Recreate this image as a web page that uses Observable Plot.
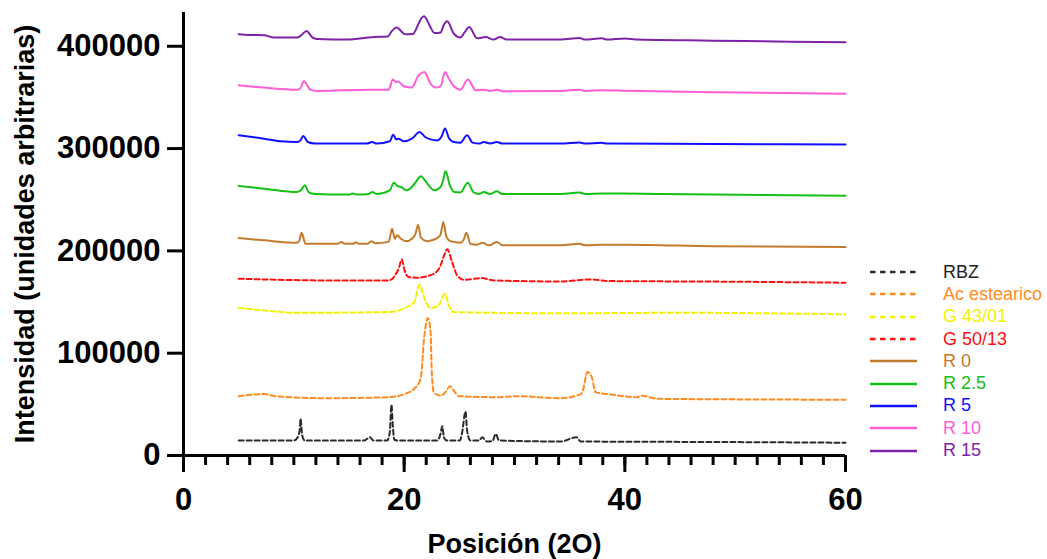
<!DOCTYPE html>
<html><head><meta charset="utf-8">
<script src="https://cdn.jsdelivr.net/npm/d3@7"></script>
<script src="https://cdn.jsdelivr.net/npm/@observablehq/plot@0.6"></script>
<style>
body{margin:0;background:#fff;font-family:"Liberation Sans",Arial,sans-serif}
#wrap{position:relative;width:1047px;height:559px;overflow:hidden}
#legend{position:absolute;left:870px;top:261px}
.row{display:flex;align-items:center;height:22.3px;font-size:18px;white-space:nowrap}
.row svg{margin-right:26px;flex:none}
</style></head><body><div id="wrap"><div id="chart"></div><div id="legend"></div></div>
<script>
// Series names, colors and dash style
const names = ["RBZ","Ac estearico","G 43/01","G 50/13","R 0","R 2.5","R 5","R 10","R 15"];
const colors = ["#2a2a2a","#FF8A1E","#F2F200","#FF1010","#C47A2C","#14C014","#1010FF","#FF5CD6","#7E22A8"];
const dashed = [true,true,true,true,false,false,false,false,false];
const xLabel = "Posición (2O)";
const yLabel = "Intensidad (unidades arbitrarias)";

// Data points [2θ, intensity (thousands)]
const RBZ = [[5,14.7],[10.0,14.7],[10.3,17],[10.55,26.1],[10.6,35.9],[10.76,19.6],[10.97,14.7],[16.4,14.7],[16.9,17.9],[17.2,14.7],[18.46,14.7],[18.7,22.8],[18.85,49.6],[18.97,29.3],[19.1,15.6],[19.4,14.7],[23.0,14.7],[23.3,21.2],[23.45,28.7],[23.6,17.9],[23.84,14.7],[25.05,14.7],[25.26,22.8],[25.56,43],[25.7,24.5],[26.0,14.7],[26.8,14.7],[27.07,17.9],[27.5,13.7],[28.0,14],[28.3,21.2],[28.6,14.7],[34.2,13.7],[35.6,17.9],[36,13.7],[48,13.2],[60,12.5]];
const AC = [[5,58],[7.3,60],[8.3,58],[13,56],[18.6,57],[20.1,60.3],[20.9,65.2],[21.5,75],[21.8,114],[22.15,134.3],[22.4,120.6],[22.5,81.5],[22.7,61.3],[23.3,58.6],[23.75,61.9],[24.14,67.8],[24.5,63.5],[24.95,58],[28.4,57],[30.2,58],[34.2,56],[36.0,60],[36.2,63.6],[36.6,81.5],[37.0,76.6],[37.35,61.9],[38.7,59.7],[41.1,57],[41.5,58.3],[43,55.4],[60,54.5]];
const G4301 = [[5,144.4],[7.3,141.8],[10.3,139.5],[18.5,140.2],[20.1,144.4],[20.9,149.9],[21.4,166.9],[21.8,154.8],[22.4,144],[23.1,146.5],[23.7,158.1],[24.05,146.5],[24.5,140.2],[34.2,139],[45,139.5],[60,138]];
const G5013 = [[5,172.8],[7.3,172.1],[13.2,171.1],[18.6,171.1],[19.06,174.4],[19.5,182.6],[19.8,191.7],[20.0,182.6],[20.4,174.4],[21.1,173.8],[22.7,177.7],[23.3,185.8],[23.6,195],[23.9,201.5],[24.35,189],[24.8,176],[25.4,171.8],[27.0,173.4],[28.2,171.1],[34.2,170.1],[36.9,172.1],[38.5,170.5],[48,170],[60,168.9]];
const R0 = [[5,212.5],[7.3,210.3],[10.3,208],[10.5,210],[10.7,217.8],[11.06,207],[14.0,207],[14.3,208.8],[14.6,207],[15.4,207],[15.6,208.5],[15.9,207],[16.7,207],[17.0,209.5],[17.4,207.5],[18.6,208.8],[18.9,221.7],[19.16,211.9],[19.37,215.2],[19.7,211.9],[20.2,209.5],[20.7,211.9],[21.0,215.8],[21.27,225.6],[21.5,213.5],[22.1,209.5],[23.0,212.5],[23.3,216],[23.54,228.2],[23.84,213.5],[24.2,209.5],[25.1,208],[25.4,211],[25.65,217.8],[26.0,207],[26.6,206],[27.1,208],[27.7,205.4],[28.4,208.8],[28.9,205.4],[34.2,205.4],[35.9,207],[36.4,205.4],[37.9,206],[40,206],[48,204.5],[60,203.7]];
const R25 = [[5,263.4],[7.3,260.8],[10.3,257.5],[10.7,260],[11.0,264.1],[11.36,257.1],[11.9,255.6],[15.0,255],[15.3,256],[15.8,255],[16.8,255.6],[17.1,257.5],[17.5,255.6],[18.7,259.2],[19.06,266.7],[19.4,263.4],[19.7,262.5],[20.2,259.2],[20.7,262.5],[21.1,268],[21.5,272.9],[22.1,265.7],[22.7,259.2],[23.3,262.5],[23.55,270],[23.75,277.8],[24.14,264.1],[24.56,257.5],[25.1,257.1],[25.77,266.7],[26.3,257.1],[26.8,255.6],[27.2,257.5],[27.8,255.6],[28.4,258.2],[28.9,255.6],[34.2,255.6],[35.9,257],[36.4,255.6],[37.9,256.2],[40,256],[48,255],[60,253.9]];
const R5 = [[5,313],[7.3,309.7],[8.8,307.1],[10.3,306.4],[10.6,308],[10.85,312.3],[11.27,306.4],[11.9,304.9],[16.6,304.9],[17.1,306.4],[17.5,304.9],[18.7,307.1],[19.0,313.6],[19.28,309],[19.5,309.7],[19.97,307.1],[20.7,309.7],[21.4,316.2],[21.9,311.3],[22.4,309],[23.0,308],[23.4,312],[23.7,319.5],[24.05,310.4],[24.5,306.4],[25.1,305.8],[25.7,313],[26.2,305.8],[26.8,304.9],[27.2,306.4],[27.8,304.9],[28.4,306.4],[28.9,304.9],[34.2,304.9],[35.9,306],[36.4,304.9],[37.9,305.6],[38.4,304.9],[48,304.5],[60,303.9]];
const R10 = [[5,361.9],[7.3,359.6],[10.3,357.6],[10.6,359],[10.9,365.8],[11.5,357.6],[12.1,356.3],[16.95,357.6],[18.6,357.6],[18.97,367.4],[19.3,365],[19.45,365.5],[19.97,360.9],[20.7,359.6],[21.3,371.6],[21.5,373.3],[21.85,374.9],[22.3,365],[22.85,359.6],[23.3,360.9],[23.7,374.9],[24.05,368.4],[24.5,360.9],[25.1,357.6],[25.77,367.4],[26.5,357],[27.2,357.6],[27.8,356.3],[28.4,357.6],[29,356],[34.2,356.3],[35.9,357.5],[36.4,356.3],[37.9,357],[40,356.5],[48,355],[60,353.7]];
const R15 = [[5,411.7],[6,411],[7.3,410.8],[8.2,408.5],[10.3,408.5],[10.7,411],[11.15,415],[11.7,408.5],[12.1,407.2],[14.8,406.5],[17.25,409],[18.5,409.5],[18.9,415],[19.3,418.3],[20.1,411.7],[20.8,412],[21.3,422],[21.6,428],[21.8,429.3],[22.0,427],[22.3,420.5],[22.75,413],[23.3,413.5],[23.6,421],[23.9,424.4],[24.5,412.4],[25.1,408.5],[25.5,414],[25.9,418.9],[26.6,407.8],[27.4,409],[28.1,406.5],[28.7,409],[29.3,406.5],[34.2,406.5],[35.9,408],[36.4,406.5],[37.9,407.8],[38.4,406.5],[40,407.5],[41,406.5],[48,405.5],[55,404.5],[60,404]];
const seriesData = [RBZ, AC, G4301, G5013, R0, R25, R5, R10, R15];

const yTicks = [0,100000,200000,300000,400000];
const xMajor = [0,20,40,60];
const xMinor = d3.range(0,61,2);

const FONT = '"Liberation Sans", Arial, sans-serif';

const lineMarks = seriesData.map((data, i) => Plot.line(data, {
  x: d => d[0], y: d => d[1]*1000,
  stroke: colors[i], strokeWidth: 2, curve: "monotone-x",
  strokeDasharray: dashed[i] ? "5,3" : null
}));

const chart = Plot.plot({
  width: 1047, height: 559,
  marginLeft: 183, marginRight: 202, marginTop: 12, marginBottom: 104,
  x: {domain: [0,60]},
  y: {domain: [0,433000]},
  style: {fontFamily: FONT, color: "#000", background: "#fff", overflow: "visible"},
  marks: [
    ...lineMarks,
    Plot.ruleX([0], {y1: 0, y2: 433000, strokeWidth: 3, stroke: "#000"}),
    Plot.ruleY([0], {x1: 0, x2: 60, strokeWidth: 3, stroke: "#000"}),
    Plot.axisX(xMinor, {tickSize: 10, strokeWidth: 3, text: null, label: null}),
    Plot.axisX(xMajor, {tickSize: 17, strokeWidth: 3, tickPadding: 15, fontSize: 31, fontWeight: "bold",
      label: xLabel, labelAnchor: "center", labelOffset: 97}),
    Plot.axisY(yTicks, {tickSize: 16, strokeWidth: 3, tickPadding: 7, fontSize: 31, fontWeight: "bold",
      tickFormat: d => String(d),
      label: yLabel, labelAnchor: "center", labelOffset: 169})
  ]
});
document.getElementById("chart").appendChild(chart);
[["y-axis label", yLabel], ["x-axis label", xLabel]].forEach(([aria, txt]) => {
  chart.querySelectorAll(`g[aria-label='${aria}'] text`).forEach(t => {
    t.textContent = txt;
    t.setAttribute("font-size", "27"); t.setAttribute("font-weight", "bold");
  });
});

const legend = document.getElementById("legend");
names.forEach((n, i) => {
  const row = document.createElement("div");
  row.className = "row";
  row.innerHTML = `<svg width="47" height="6"><line x1="0" y1="3" x2="47" y2="3" stroke="${colors[i]}" stroke-width="2.5" ${dashed[i] ? 'stroke-dasharray="5.5,4.5"' : ''}/></svg><span style="color:${i===0?'#222':colors[i]}">${n}</span>`;
  legend.appendChild(row);
});
</script>
</body></html>
